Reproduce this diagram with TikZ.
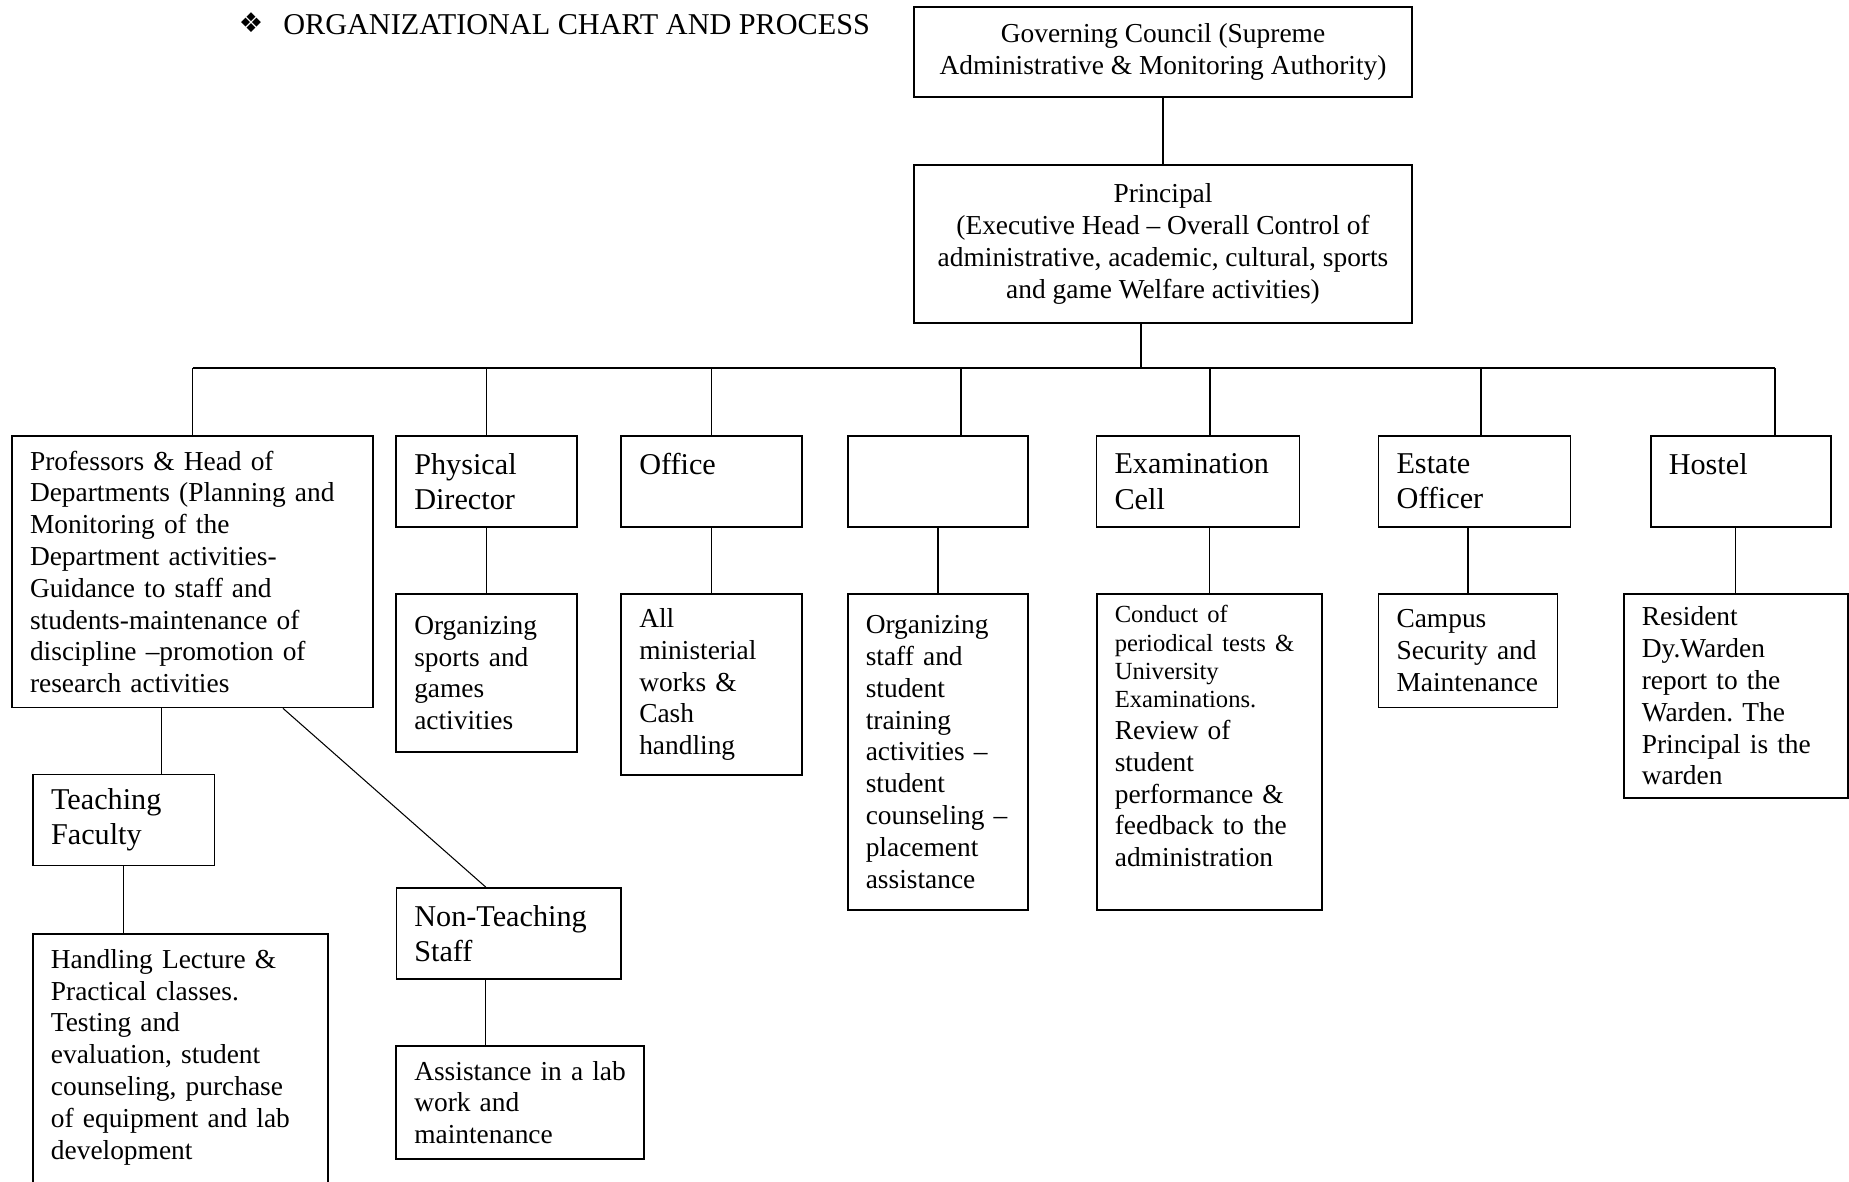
\documentclass[tikz,border=0pt]{standalone}
\usepackage{fontspec}
\setmainfont{Liberation Serif}
\newfontfamily\dingfont{DejaVu Sans}
\usetikzlibrary{positioning}
\setlength{\parindent}{0pt}
\frenchspacing
\newcommand{\boxfont}{\fontsize{15.6}{18.1}\selectfont}
\newcommand{\headfont}{\fontsize{17.2}{20.1}\selectfont}
\newcommand{\notefont}{\fontsize{14}{16.1}\selectfont}

\begin{document}
\begin{tikzpicture}[
    x=0.02cm, y=-0.02cm,
    box/.style={rectangle, draw, line width=0.9pt, align=left, inner xsep=0.36cm, inner ysep=2pt, font=\boxfont},
    headbox/.style={box, font=\headfont},
    chief/.style={box, align=center, minimum width=9.96cm},
    link/.style={line width=0.6pt}
]
\useasboundingbox (0,0) rectangle (1849,1181);

% Heading
\node (bullet) [font={\dingfont\fontsize{15.5}{15.5}\selectfont}] at (251,23) {❖};
\node (title) [anchor=base west, inner sep=0pt, font=\headfont] at (283,34) {ORGANIZATIONAL CHART AND PROCESS};

% Council and principal
\node (gc) [chief, minimum height=1.80cm] at (1163,52) {Governing Council (Supreme\\Administrative \& Monitoring Authority)};
\node (principal) [chief, minimum height=3.16cm] at (1163,244) {Principal\\(Executive Head – Overall Control of\\administrative, academic, cultural, sports\\and game Welfare activities)};

% Sections
\node (prof) [box, text width=6.50cm, minimum height=5.43cm] at (192.5,571.8) {Professors \& Head of\\Departments (Planning and\\Monitoring of the\\Department activities-\\Guidance to staff and\\students-maintenance of\\discipline –promotion of\\research activities};
\node (phys) [headbox, text width=2.89cm, minimum height=1.82cm] at (486.5,481.5) {Physical\\Director};
\node (office) [headbox, text width=2.89cm, minimum height=1.82cm] at (711.5,481.5) {Office\\\mbox{}};
\node (blank) [headbox, text width=2.89cm, minimum height=1.82cm] at (938,481.5) {};
\node (exam) [headbox, text width=3.34cm, minimum height=1.82cm] at (1198,481.5) {Examination\\Cell};
\node (estate) [headbox, text width=3.12cm, minimum height=1.82cm] at (1474.5,481.5) {Estate\\Officer};
\node (hostel) [headbox, text width=2.89cm, minimum height=1.82cm] at (1741,481.5) {Hostel\\\mbox{}};

% Duties
\node (sports) [box, text width=2.89cm, minimum height=3.16cm] at (486.5,673) {Organizing\\sports and\\games\\activities};
\node (minist) [box, text width=2.89cm, minimum height=3.62cm] at (711.5,684.5) {All\\ministerial\\works \&\\Cash\\handling};
\node (training) [box, text width=2.89cm, minimum height=6.32cm] at (938,752) {Organizing\\staff and\\student\\training\\activities –\\student\\counseling –\\placement\\assistance};
\node (conduct) [box, text width=3.78cm, minimum height=6.32cm] at (1209.3,752) {{\notefont Conduct of\\periodical tests \&\\University\\Examinations.\par}Review of\\student\\performance \&\\feedback to the\\administration\\\mbox{}};
\node (campus) [box, text width=2.86cm, minimum height=2.27cm] at (1468,650.8) {Campus\\Security and\\Maintenance};
\node (resident) [box, text width=3.76cm, minimum height=4.08cm] at (1735.8,696) {Resident\\Dy.Warden\\report to the\\Warden. The\\Principal is the\\warden};

% Staff under the departments
\node (teach) [headbox, text width=2.91cm, minimum height=1.82cm] at (123.8,820.1) {Teaching\\Faculty};
\node (handling) [box, text width=5.18cm, minimum height=5.44cm] at (180.4,1070) {Handling Lecture \&\\Practical classes.\\Testing and\\evaluation, student\\counseling, purchase\\of equipment and lab\\development\\\mbox{}};
\node (nonteach) [headbox, text width=3.78cm, minimum height=1.82cm] at (508.8,933.4) {Non-Teaching\\Staff};
\node (assist) [box, text width=4.23cm, minimum height=2.26cm] at (520,1102.5) {Assistance~in~a~lab\\work and\\maintenance};

% Bus
\coordinate (hub) at (1141,368);
\coordinate (drop4) at (961,368);
\coordinate (drop5) at (1210,368);
\coordinate (drop6) at (1481,368);
\coordinate (drop7) at (1775,368);

% Lines
\draw [link] (gc) -- (principal);
\draw [link] (principal.south -| hub) -- (hub);
\draw [link] (hub -| prof) -- (drop7);
\draw [link] (hub -| prof) -- (prof);
\draw [link] (hub -| phys) -- (phys);
\draw [link] (hub -| office) -- (office);
\draw [link] (drop4) -- (drop4 |- blank.north);
\draw [link] (drop5) -- (drop5 |- exam.north);
\draw [link] (drop6) -- (drop6 |- estate.north);
\draw [link] (drop7) -- (drop7 |- hostel.north);

\draw [link] (phys) -- (sports);
\draw [link] (office) -- (minist);
\draw [link] (blank) -- (training);
\draw [link] (conduct |- exam.south) -- (conduct);
\draw [link] (campus |- estate.south) -- (campus);
\draw [link] (resident |- hostel.south) -- (resident);

\draw [link] ([xshift=0.75cm]teach.north) -- ([xshift=0.75cm]teach.north |- prof.south);
\draw [link] (teach) -- (teach |- handling.north);
\draw [link] ([xshift=1.81cm]prof.south) -- ([xshift=-0.46cm]nonteach.north);
\draw [link] ([xshift=-0.46cm]nonteach.south) -- ([xshift=-0.46cm]nonteach.south |- assist.north);

\end{tikzpicture}
\end{document}
